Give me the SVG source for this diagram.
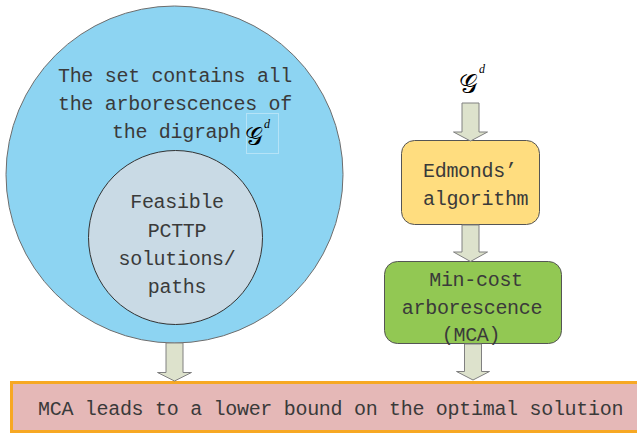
<svg xmlns="http://www.w3.org/2000/svg" width="637" height="435" viewBox="0 0 637 435">
<style>
.t{font-family:"Liberation Mono","DejaVu Sans Mono",monospace;font-size:20px;letter-spacing:-0.3px;fill:#3a3a3a;}
.c{text-anchor:middle;}
.g{font-family:"DejaVu Serif","DejaVu Sans","Liberation Serif",serif;fill:#000;}
.d{font-family:"Liberation Serif","DejaVu Serif",serif;font-style:italic;}
.arrow{fill:#dde2cc;stroke:#808080;stroke-width:1;}
</style>
<rect width="637" height="435" fill="#fff"/>
<g id="set">
<circle cx="174.5" cy="174.5" r="168.5" fill="#8dd4f2" stroke="#6d6d6d" stroke-width="1"/>
<text class="t c" x="175" y="82">The set contains all</text>
<text class="t c" x="175" y="110">the arborescences of</text>
<text class="t" x="112" y="138">the digraph</text>
<rect x="246.5" y="113.5" width="32" height="40" fill="none" stroke="#b5e3f7" stroke-width="1"/>
<text class="g" x="245" y="145" font-size="25">𝒢<tspan class="d" dx="1" dy="-17" font-size="12">d</tspan></text>
</g>
<g id="feasible">
<circle cx="175.5" cy="237.5" r="87" fill="#c9dae5" stroke="#333" stroke-width="1"/>
<text class="t c" x="177" y="208">Feasible</text>
<text class="t c" x="177" y="237">PCTTP</text>
<text class="t c" x="177" y="265">solutions/</text>
<text class="t c" x="177" y="293">paths</text>
</g>
<g id="input">
<text class="g" x="459" y="93" font-size="26">𝒢<tspan class="d" dx="1" dy="-20" font-size="12">d</tspan></text>
</g>
<g id="edmonds">
<rect x="401.5" y="140.5" width="138" height="84" rx="13" fill="#ffdd7f" stroke="#555" stroke-width="1"/>
<text class="t" x="423" y="177">Edmonds’</text>
<text class="t" x="423" y="205">algorithm</text>
</g>
<g id="mca">
<rect x="384.5" y="261.5" width="177" height="82" rx="13" fill="#92c853" stroke="#555" stroke-width="1"/>
<text class="t c" x="476" y="286">Min-cost</text>
<text class="t c" x="472" y="314">arborescence</text>
<text class="t c" x="471" y="341">(MCA)</text>
</g>
<g id="bound">
<rect x="11.5" y="382.5" width="640" height="49" fill="#e5b8b7" stroke="#f7a823" stroke-width="3"/>
<text class="t" x="38" y="415">MCA leads to a lower bound on the optimal solution</text>
</g>
<g id="connectors">
<path class="arrow" d="M462,103 H479 V132 H487.5 L470.5,141 L453.5,132 H462 Z"/>
<path class="arrow" d="M462,225 H479 V252 H487.5 L470.5,261.5 L453.5,252 H462 Z"/>
<path class="arrow" d="M464.5,344 H481.5 V371.5 H489.5 L473,380 L456.5,371.5 H464.5 Z"/>
<path class="arrow" d="M166,343 H183 V372.5 H191.5 L174.5,381 L157.5,372.5 H166 Z"/>
</g>
</svg>
